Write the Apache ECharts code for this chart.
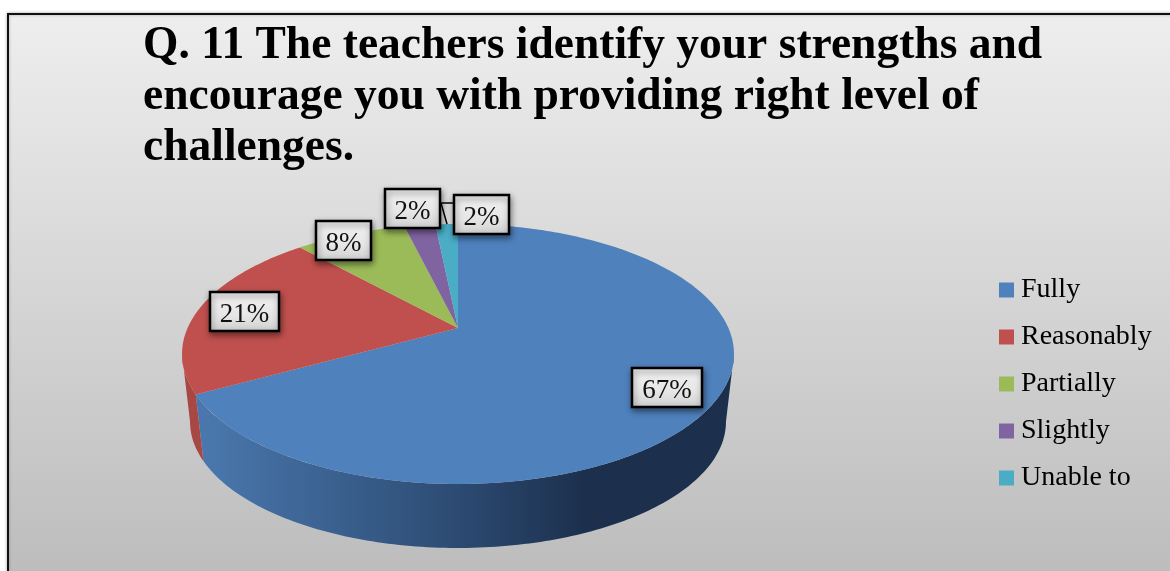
<!DOCTYPE html>
<html>
<head>
<meta charset="utf-8">
<style>html,body{margin:0;padding:0;background:#fff}#c{width:1170px;height:571px}</style>
<script src="https://cdn.jsdelivr.net/npm/echarts@6/dist/echarts.min.js"></script>
</head>
<body>
<div id="c"></div>
<script>
var categories = ['Fully', 'Reasonably', 'Partially', 'Slightly', 'Unable to'];
var values = [67, 21.3, 7.9, 2.2, 1.6];
var titleText = 'Q. 11 The teachers identify your strengths and\nencourage you with providing right level of\nchallenges.';

var colors = ['#4f81bd', '#c0504d', '#9bbb59', '#8064a2', '#4bacc6'];
var sideStops = [
  [[0, '#4a78ae'], [0.47, '#2d4c74'], [0.72, '#1c304d'], [1, '#1c304d']],
  [[0, '#a84845'], [1, '#8e3d3a']],
  [[0, '#7a9444'], [1, '#5f7335']],
  [[0, '#63497f'], [1, '#4d3863']],
  [[0, '#38869c'], [1, '#2a6878']]
];
// label boxes: left, top, right, bottom
var labelBoxes = [[632, 368, 702, 407], [210, 292, 279, 331], [316, 221, 371, 260], [385, 189, 440, 228], [454, 195, 509, 234]];
var FONT = '"Liberation Serif", serif';

// perspective pie geometry
var PIE = { x: 458, y: 328, cx: 270.4, ay: 124.8, k: 0.2, depthY: 68.5, bottomScale: 0.971 };
var frontStart = Math.acos(-PIE.k) * 180 / Math.PI, frontEnd = 360 - frontStart;
function project(deg, bottom) {
  var r = deg * Math.PI / 180, u = Math.sin(r), v = -Math.cos(r);
  var s = bottom ? PIE.bottomScale : 1, d = 1 - PIE.k * v;
  return [PIE.x + s * PIE.cx * u / d, PIE.y + (bottom ? PIE.depthY : 0) + s * PIE.ay * v / d];
}
function arc(a0, a1, bottom) {
  var pts = [], n = Math.max(2, Math.ceil(Math.abs(a1 - a0)));
  for (var i = 0; i <= n; i++) pts.push(project(a0 + (a1 - a0) * i / n, bottom));
  return pts;
}
var total = values.reduce(function (a, b) { return a + b; }, 0);
var cum = 0;
var series = categories.map(function (name, i) {
  var start = cum, end = cum + values[i];
  cum = end;
  return {
    type: 'custom', name: name, coordinateSystem: 'none', silent: true, animation: false,
    itemStyle: { color: colors[i] },
    data: [[start, end]],
    renderItem: function (params, api) {
      var a0 = api.value(0) / total * 360, a1 = api.value(1) / total * 360;
      var box = labelBoxes[i];
      var s0 = Math.max(a0, frontStart), s1 = Math.min(a1, frontEnd);
      var children = [
        { type: 'polygon', z2: 5, shape: { points: [[PIE.x, PIE.y]].concat(arc(a0, a1, false)) }, style: { fill: colors[i] } },
        { type: 'rect', z2: 10, shape: { x: box[0], y: box[1], width: box[2] - box[0], height: box[3] - box[1] },
          style: { fill: new echarts.graphic.LinearGradient(0, 0, 0, 1, [{ offset: 0, color: '#f2f2f2' }, { offset: 0.6, color: '#e6e6e6' }, { offset: 1, color: '#cfcfcf' }]),
            stroke: '#000', lineWidth: 2.5, shadowBlur: 6, shadowOffsetY: 3, shadowOffsetX: 1, shadowColor: 'rgba(0,0,0,0.45)' } },
        { type: 'text', z2: 11, style: { text: Math.round(values[i] / total * 100) + '%', x: (box[0] + box[2]) / 2, y: (box[1] + box[3]) / 2 + 3,
          align: 'center', verticalAlign: 'middle', font: '27px ' + FONT, fill: '#111' } }
      ];
      if (s1 > s0) {
        children.push({ type: 'polygon', z2: 1, shape: { points: arc(s0, s1, false).concat(arc(s1, s0, true)) },
          style: { fill: new echarts.graphic.LinearGradient(201, 0, 734, 0, sideStops[i].map(function (s) { return { offset: s[0], color: s[1] }; }), true) } });
      }
      if (i === 4) {
        children.push({ type: 'polyline', z2: 9, shape: { points: [[box[0], 203], [441, 203], [447, 224]] }, style: { fill: 'none', stroke: '#000', lineWidth: 1.5 } });
      }
      return { type: 'group', children: children };
    }
  };
});

var chart = echarts.init(document.getElementById('c'), null, { renderer: 'canvas' });
chart.setOption({
  animation: false,
  backgroundColor: '#ffffff',
  graphic: [{
    type: 'rect', z: -10, silent: true,
    shape: { x: 8, y: 14, width: 1200, height: 600 },
    style: {
      fill: new echarts.graphic.LinearGradient(0, 0, 0, 1, [{ offset: 0, color: '#eeeeee' }, { offset: 1, color: '#b9b9b9' }]),
      stroke: '#111', lineWidth: 2, shadowBlur: 3, shadowColor: 'rgba(0,0,0,0.3)'
    }
  }],
  title: {
    text: titleText, left: 143, top: 21, padding: 0,
    textStyle: { fontFamily: FONT, fontWeight: 'bold', fontSize: 45.5, lineHeight: 51, color: '#000' }
  },
  legend: {
    orient: 'vertical', left: 999, top: 275, padding: 0,
    data: categories, icon: 'rect', itemWidth: 15, itemHeight: 15, itemGap: 17, selectedMode: false,
    textStyle: { fontFamily: FONT, fontSize: 28, lineHeight: 30, color: '#000', padding: [0, 0, 0, 2] }
  },
  series: series
});
</script>
</body>
</html>
